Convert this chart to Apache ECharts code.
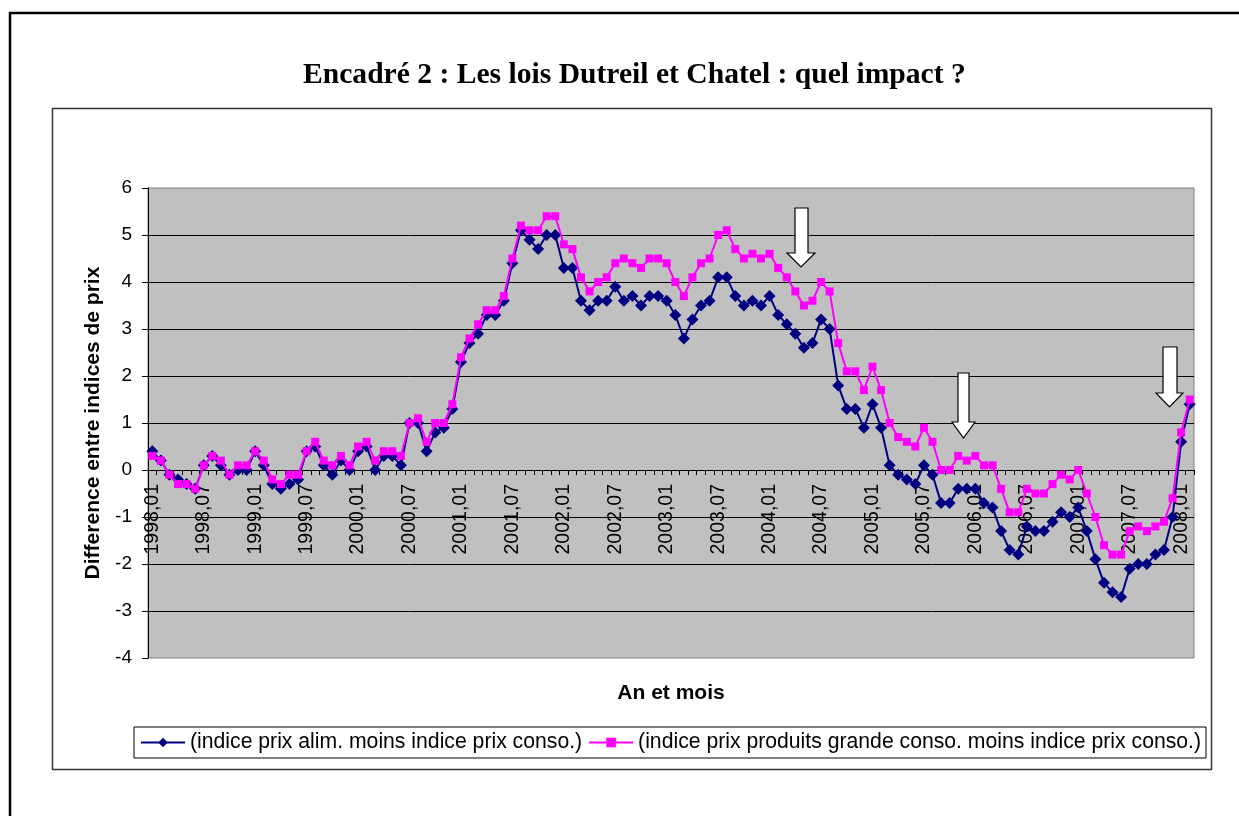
<!DOCTYPE html>
<html>
<head>
<meta charset="utf-8">
<script src="https://cdn.jsdelivr.net/npm/echarts@6/dist/echarts.min.js"></script>
<style>
html,body{margin:0;padding:0;background:#fff;}
#c{width:1239px;height:816px;}
</style>
</head>
<body>
<div id="c"></div>
<script>
var years = [1998,1999,2000,2001,2002,2003,2004,2005,2006,2007,2008];
var months = ['01','02','03','04','05','06','07','08','09','10','11','12'];
var lastMonth = '2008,02';
var categories = [];
(function(){
  for (var y = 0; y < years.length; y++) {
    for (var m = 0; m < months.length; m++) {
      var c = years[y] + ',' + months[m];
      categories.push(c);
      if (c === lastMonth) return;
    }
  }
})();

var serieAlimName = '(indice prix alim. moins indice prix conso.)';
var serieGCName = '(indice prix produits grande conso. moins indice prix conso.)';

var alimValues = [
  0.4, 0.2, -0.1, -0.2, -0.3, -0.4, 0.1, 0.3, 0.1, -0.1, 0, 0,
  0.4, 0.1, -0.3, -0.4, -0.3, -0.2, 0.4, 0.5, 0.1, -0.1, 0.2, 0,
  0.4, 0.5, 0, 0.3, 0.3, 0.1, 1.0, 1.0, 0.4, 0.8, 0.9, 1.3,
  2.3, 2.7, 2.9, 3.3, 3.3, 3.6, 4.4, 5.1, 4.9, 4.7, 5.0, 5.0,
  4.3, 4.3, 3.6, 3.4, 3.6, 3.6, 3.9, 3.6, 3.7, 3.5, 3.7, 3.7,
  3.6, 3.3, 2.8, 3.2, 3.5, 3.6, 4.1, 4.1, 3.7, 3.5, 3.6, 3.5,
  3.7, 3.3, 3.1, 2.9, 2.6, 2.7, 3.2, 3.0, 1.8, 1.3, 1.3, 0.9,
  1.4, 0.9, 0.1, -0.1, -0.2, -0.3, 0.1, -0.1, -0.7, -0.7, -0.4, -0.4,
  -0.4, -0.7, -0.8, -1.3, -1.7, -1.8, -1.2, -1.3, -1.3, -1.1, -0.9, -1.0,
  -0.8, -1.3, -1.9, -2.4, -2.6, -2.7, -2.1, -2.0, -2.0, -1.8, -1.7, -1.0,
  0.6, 1.4
];

var grandeConsoValues = [
  0.3, 0.2, -0.1, -0.3, -0.3, -0.4, 0.1, 0.3, 0.2, -0.1, 0.1, 0.1,
  0.4, 0.2, -0.2, -0.3, -0.1, -0.1, 0.4, 0.6, 0.2, 0.1, 0.3, 0.1,
  0.5, 0.6, 0.2, 0.4, 0.4, 0.3, 1.0, 1.1, 0.6, 1.0, 1.0, 1.4,
  2.4, 2.8, 3.1, 3.4, 3.4, 3.7, 4.5, 5.2, 5.1, 5.1, 5.4, 5.4,
  4.8, 4.7, 4.1, 3.8, 4.0, 4.1, 4.4, 4.5, 4.4, 4.3, 4.5, 4.5,
  4.4, 4.0, 3.7, 4.1, 4.4, 4.5, 5.0, 5.1, 4.7, 4.5, 4.6, 4.5,
  4.6, 4.3, 4.1, 3.8, 3.5, 3.6, 4.0, 3.8, 2.7, 2.1, 2.1, 1.7,
  2.2, 1.7, 1.0, 0.7, 0.6, 0.5, 0.9, 0.6, 0, 0, 0.3, 0.2,
  0.3, 0.1, 0.1, -0.4, -0.9, -0.9, -0.4, -0.5, -0.5, -0.3, -0.1, -0.2,
  0, -0.5, -1.0, -1.6, -1.8, -1.8, -1.3, -1.2, -1.3, -1.2, -1.1, -0.6,
  0.8, 1.5
];

var yMin = -4, yMax = 6, yStep = 1;
var titleText = 'Encadré 2 : Les lois Dutreil et Chatel : quel impact ?';
var yAxisName = 'Difference entre indices de prix';
var xAxisName = 'An et mois';

var chart = echarts.init(document.getElementById('c'), null, {renderer: 'canvas'});

function arrow(x1, x2, top, headY, hx1, hx2, tipY) {
  return {
    type: 'polygon', z: 100,
    shape: {points: [[x1, top], [x2, top], [x2, headY], [hx2, headY], [(hx1 + hx2) / 2, tipY], [hx1, headY], [x1, headY]]},
    style: {fill: '#ffffff', stroke: '#000000', lineWidth: 1.2}
  };
}

var option = {
  backgroundColor: '#ffffff',
  animation: false,
  title: {
    text: titleText,
    left: 298,
    top: 55,
    textStyle: {fontFamily: 'Liberation Serif', fontWeight: 'bold', fontSize: 29.6, color: '#000'}
  },
  legend: {
    left: 134, top: 727,
    orient: 'horizontal',
    backgroundColor: '#ffffff',
    borderColor: '#000000', borderWidth: 1, borderRadius: 0,
    padding: [5, 5, 5, 6],
    itemGap: 6, itemWidth: 44, itemHeight: 12,
    textStyle: {fontFamily: 'Liberation Sans', fontSize: 21.2, color: '#000'},
    data: [serieAlimName, serieGCName]
  },
  grid: {
    left: 148, right: 45, top: 188, bottom: 158,
    show: true, backgroundColor: '#c0c0c0', borderColor: '#808080', borderWidth: 1,
    containLabel: false, outerBoundsMode: 'none'
  },
  xAxis: {
    type: 'category',
    data: categories,
    boundaryGap: true,
    axisLine: {onZero: true, lineStyle: {color: '#000', width: 1}},
    axisTick: {show: true, interval: 0, length: 5, inside: false, lineStyle: {color: '#000', width: 1}},
    axisLabel: {interval: 5, rotate: 90, margin: -174, fontFamily: 'Liberation Sans', fontSize: 19.5, color: '#000'},
    splitLine: {show: false}
  },
  yAxis: {
    type: 'value',
    min: yMin, max: yMax, interval: yStep,
    name: yAxisName,
    nameLocation: 'middle',
    nameGap: 44,
    nameRotate: 90,
    nameTextStyle: {fontFamily: 'Liberation Sans', fontWeight: 'bold', fontSize: 21, color: '#000'},
    axisLine: {show: true, lineStyle: {color: '#000', width: 1}},
    axisTick: {show: true, length: 6, lineStyle: {color: '#000'}},
    axisLabel: {fontFamily: 'Liberation Sans', fontSize: 19, color: '#000', margin: 16},
    splitLine: {show: true, showMinLine: false, showMaxLine: false, lineStyle: {color: '#000', width: 1}}
  },
  graphic: [
    {type: 'polyline', shape: {points: [[10, 816], [10, 13], [1239, 13]]}, style: {stroke: '#000', lineWidth: 2.5, fill: null}},
    {type: 'rect', shape: {x: 52.5, y: 108.5, width: 1159, height: 661}, style: {stroke: '#333', lineWidth: 1.5, fill: null}, z: -1},
    {type: 'text', x: 671, y: 683, z: 10,
      style: {text: xAxisName, align: 'center', verticalAlign: 'top', fontFamily: 'Liberation Sans', fontWeight: 'bold', fontSize: 21, fill: '#000'}},
    arrow(795, 808, 208, 253, 787, 815, 267),
    arrow(958, 969, 373, 422, 952, 975, 438),
    arrow(1163, 1177, 347, 393, 1156, 1183, 407)
  ],
  series: [
    {
      name: serieAlimName,
      type: 'line',
      data: alimValues,
      showAllSymbol: true,
      symbol: 'diamond', symbolSize: 12,
      lineStyle: {color: '#000080', width: 2},
      itemStyle: {color: '#000080'},
      z: 2
    },
    {
      name: serieGCName,
      type: 'line',
      data: grandeConsoValues,
      showAllSymbol: true,
      symbol: 'rect', symbolSize: 8,
      lineStyle: {color: '#ff00ff', width: 2},
      itemStyle: {color: '#ff00ff'},
      z: 3
    }
  ]
};
chart.setOption(option);
</script>
</body>
</html>
